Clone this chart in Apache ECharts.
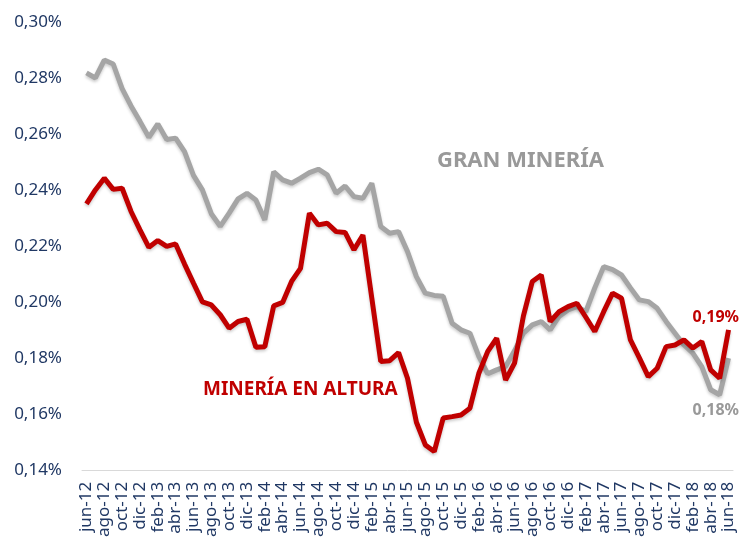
<!DOCTYPE html>
<html>
<head>
<meta charset="utf-8">
<script src="https://cdn.jsdelivr.net/npm/echarts@6/dist/echarts.min.js"></script>
<style>
  html, body { margin: 0; padding: 0; background: #fff; }
  #main { width: 742px; height: 540px; }
</style>
</head>
<body>
<div id="main"></div>
<script>
// meses en español, de jun-12 a jun-18
var mesesAbrev = ['ene', 'feb', 'mar', 'abr', 'may', 'jun', 'jul', 'ago', 'sep', 'oct', 'nov', 'dic'];
var meses = [];
for (var k = 5; k <= 6 * 12 + 5; k++) {
	var yy = 12 + Math.floor(k / 12);
	meses.push(mesesAbrev[k % 12] + '-' + yy);
}

// tasa (%) gran minería
var granMineria = [
	0.2818, 0.2800, 0.2864, 0.2850, 0.2762, 0.2700, 0.2645, 0.2588, 0.2636, 0.2580,
	0.2585, 0.2537, 0.2452, 0.2400, 0.2315, 0.2270, 0.2317, 0.2368, 0.2388, 0.2364,
	0.2293, 0.2465, 0.2436, 0.2424, 0.2442, 0.2462, 0.2474, 0.2454, 0.2388, 0.2414,
	0.2376, 0.2370, 0.2424, 0.2269, 0.2245, 0.2251, 0.2180, 0.2090, 0.2031, 0.2023,
	0.2020, 0.1924, 0.1900, 0.1888, 0.1805, 0.1743, 0.1757, 0.1769, 0.1825, 0.1888,
	0.1918, 0.1930, 0.1900, 0.1948, 0.1971, 0.1983, 0.1965, 0.2050, 0.2126, 0.2115,
	0.2096, 0.2050, 0.2007, 0.2001, 0.1977, 0.1930, 0.1888, 0.1846, 0.1817, 0.1769,
	0.1686, 0.1668, 0.1799
];

// tasa (%) minería en altura
var mineriaAltura = [
	0.2350, 0.2400, 0.2442, 0.2402, 0.2406, 0.2323, 0.2257, 0.2195, 0.2219, 0.2198,
	0.2207, 0.2135, 0.2067, 0.2000, 0.1989, 0.1954, 0.1906, 0.1930, 0.1938, 0.1838,
	0.1840, 0.1986, 0.1998, 0.2073, 0.2120, 0.2317, 0.2275, 0.2281, 0.2251, 0.2248,
	0.2186, 0.2239, 0.2013, 0.1787, 0.1790, 0.1819, 0.1727, 0.1570, 0.1489, 0.1465,
	0.1585, 0.1590, 0.1596, 0.1620, 0.1745, 0.1823, 0.1870, 0.1721, 0.1781, 0.1950,
	0.2073, 0.2096, 0.1930, 0.1965, 0.1983, 0.1995, 0.1945, 0.1894, 0.1965, 0.2031,
	0.2013, 0.1864, 0.1800, 0.1733, 0.1763, 0.1840, 0.1846, 0.1864, 0.1835, 0.1858,
	0.1757, 0.1727, 0.1900
];

var azul = '#203864';
var rojo = '#C00000';
var gris = '#A5A5A5';

function pct(v) {
	return v.toFixed(2).replace('.', ',') + '%';
}

var myChart = echarts.init(document.getElementById('main'));

myChart.setOption({
	animation: false,
	grid: { left: 82, right: 9, top: 22, bottom: 69 },
	xAxis: {
		type: 'category',
		data: meses,
		boundaryGap: true,
		axisLine: { lineStyle: { color: '#D9D9D9', width: 1 } },
		axisTick: { interval: 1, length: 5, lineStyle: { color: '#D9D9D9' } },
		axisLabel: {
			interval: 1,
			rotate: 90,
			margin: 12,
			color: azul,
			fontSize: 17,
			fontFamily: 'Noto Sans'
		}
	},
	yAxis: {
		type: 'value',
		min: 0.14,
		max: 0.30,
		interval: 0.02,
		axisLine: { show: false },
		axisTick: { show: false },
		splitLine: { show: false },
		axisLabel: {
			margin: 20,
			color: azul,
			fontSize: 17,
			fontFamily: 'Noto Sans',
			formatter: pct
		}
	},
	series: [{
		name: 'GRAN MINERÍA',
		type: 'line',
		data: granMineria,
		symbol: 'none',
		lineStyle: {
			color: gris, width: 5,
			shadowColor: 'rgba(0,0,0,0.2)', shadowBlur: 3, shadowOffsetY: 2
		},
		endLabel: {
			show: true,
			offset: [-44, 52],
			color: '#999999',
			fontSize: 16,
			fontWeight: 'bold',
			fontFamily: 'Noto Sans',
			formatter: function (p) { return pct(p.value); }
		},
		z: 2
	}, {
		name: 'MINERÍA EN ALTURA',
		type: 'line',
		data: mineriaAltura,
		symbol: 'none',
		lineStyle: {
			color: rojo, width: 5,
			shadowColor: 'rgba(0,0,0,0.2)', shadowBlur: 3, shadowOffsetY: 2
		},
		endLabel: {
			show: true,
			offset: [-44, -12],
			color: rojo,
			fontSize: 16,
			fontWeight: 'bold',
			fontFamily: 'Noto Sans',
			formatter: function (p) { return pct(p.value); }
		},
		z: 3
	}],
	graphic: [{
		type: 'text',
		left: 437,
		top: 150,
		style: {
			text: 'GRAN MINERÍA',
			fill: '#999999',
			font: 'bold 22px "Noto Sans"'
		}
	}, {
		type: 'text',
		left: 203,
		top: 380,
		style: {
			text: 'MINERÍA EN ALTURA',
			fill: rojo,
			font: 'bold 19px "Noto Sans"'
		}
	}]
});
</script>
</body>
</html>
